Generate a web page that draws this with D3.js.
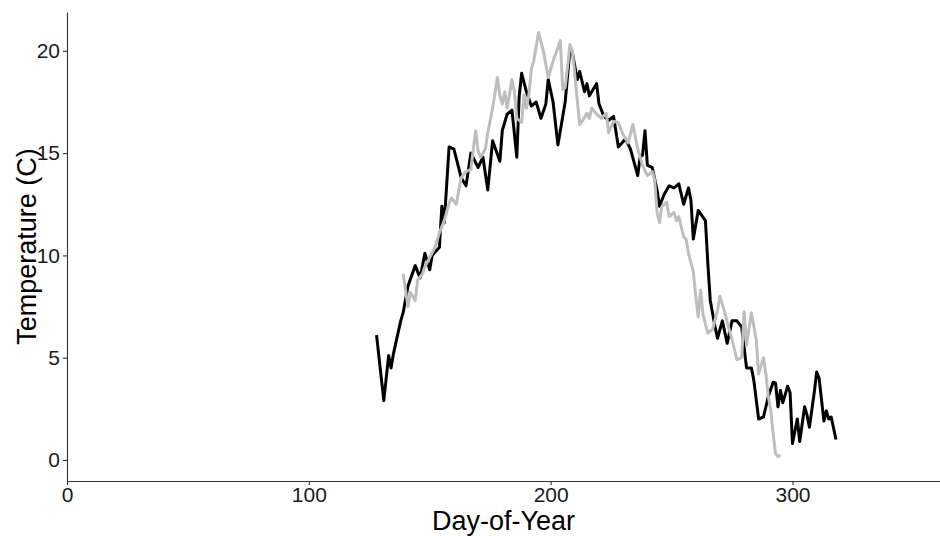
<!DOCTYPE html>
<html>
<head>
<meta charset="utf-8">
<script src="https://cdn.jsdelivr.net/npm/d3@7"></script>
<style>
  html, body { margin: 0; padding: 0; background: #fff; }
  svg { display: block; font-family: "Liberation Sans", Arial, sans-serif; }
</style>
</head>
<body>
<svg id="chart" width="940" height="536"></svg>
<script>
// Daily water temperature, two records (dark and light traces)
const darkDays = [128,131,133,134,135,138,139,141,144,146,148,150,151,154,155,156,158,160,163,165,
  167,170,172,174,176,179,180,182,184,186,187,188,190,192,194,196,198,199,201,203,
  206,208,209,211,212,214,215,216,219,220,222,224,226,228,231,233,236,237,238,239,
  240,242,244,245,247,249,251,253,255,257,258,259,261,264,265,266,268,269,271,273,
  275,277,279,281,283,284,286,288,290,292,293,294,295,296,298,299,300,302,303,305,
  306,307,309,310,311,313,314,315,316,318];
const darkTemps = [6.1,2.9,5.1,4.5,5.2,6.8,7.2,8.5,9.5,8.9,10.1,9.3,10.0,10.4,12.4,11.6,15.3,15.2,13.8,13.4,
  15.0,14.3,14.8,13.2,15.6,14.6,16.1,16.9,17.1,14.8,17.8,18.9,18.0,17.3,17.5,16.7,17.4,18.6,17.5,15.4,
  17.5,20.1,19.9,18.6,19.0,18.0,18.4,17.8,18.4,17.4,16.8,16.6,16.8,15.3,15.7,15.2,13.9,14.8,14.9,16.1,
  14.4,14.3,13.2,12.4,13.0,13.4,13.3,13.5,12.5,13.3,12.7,10.8,12.2,11.7,9.6,7.8,6.5,5.95,6.8,5.7,
  6.8,6.8,6.5,4.5,4.5,3.9,2.0,2.1,3.1,3.8,3.75,2.6,3.4,2.8,3.6,3.3,0.8,2.0,0.9,2.6,
  2.2,1.6,3.3,4.3,4.0,1.9,2.4,2.0,2.1,1.0];

const lightDays = [139,140,141,142,144,145,147,148,150,152,154,156,158,159,161,162,163,165,167,168,
  169,170,171,173,174,176,178,179,180,181,182,184,185,186,188,189,190,191,192,193,
  195,197,199,201,204,205,206,208,209,212,213,215,216,217,219,221,223,224,226,228,
  230,232,234,236,238,240,242,243,244,245,246,248,249,251,252,253,255,256,257,259,
  260,261,262,263,265,267,269,270,272,274,275,277,279,280,281,283,285,286,288,289,
  290,291,292,293,294,295];
const lightTemps = [9.1,8.3,7.5,8.2,7.8,8.8,9.1,9.45,9.9,10.35,11.1,11.7,12.55,12.8,12.5,13.2,13.8,14.1,14.2,15.2,
  16.1,15.1,14.8,15.2,16.0,17.2,18.7,17.8,17.4,18.0,17.2,18.6,18.0,16.7,16.5,17.85,17.2,17.85,19.1,19.5,
  20.9,20.0,18.7,19.5,20.5,18.1,18.2,20.3,20.0,16.4,16.55,16.95,16.7,17.2,16.9,16.7,16.95,16.0,16.55,16.5,
  15.9,15.5,16.4,15.2,14.4,13.9,14.1,13.7,12.1,11.6,12.4,12.6,11.9,12.1,11.7,11.9,10.9,10.8,10.1,9.2,
  8.0,7.0,8.3,7.1,6.2,6.4,7.3,8.0,7.2,6.3,5.9,4.9,5.0,7.25,5.6,7.2,5.9,4.2,5.0,4.2,
  3.1,2.45,1.3,0.3,0.16,0.25];

const xTicks = [0, 100, 200, 300];
const yTicks = [0, 5, 10, 15, 20];
const xTitle = "Day-of-Year";
const yTitle = "Temperature (C)";

const svg = d3.select("#chart");
const panel = { left: 67, right: 940, top: 12, bottom: 481 };

const x = d3.scaleLinear().domain([0, 361]).range([panel.left, panel.right]);
const y = d3.scaleLinear().domain([-1.03, 21.9]).range([panel.bottom, panel.top]);

// Axes
const xAxis = svg.append("g")
  .attr("transform", `translate(0,${panel.bottom})`)
  .call(d3.axisBottom(x).tickValues(xTicks).tickFormat(d3.format("d")).tickSize(4).tickSizeOuter(0));
const yAxis = svg.append("g")
  .attr("transform", `translate(${panel.left},0)`)
  .call(d3.axisLeft(y).tickValues(yTicks).tickFormat(d3.format("d")).tickSize(4).tickSizeOuter(0));

[xAxis, yAxis].forEach(g => {
  g.select(".domain").attr("stroke", "#333").attr("stroke-width", 1.1);
  g.selectAll(".tick line").attr("stroke", "#333").attr("stroke-width", 1.1);
  g.selectAll(".tick text")
    .attr("fill", "#1a1a1a")
    .style("font-size", "21px")
    .style("font-family", "'Liberation Sans', Arial, sans-serif");
});
xAxis.selectAll(".tick text").attr("dy", "0.71em").attr("y", 6);
yAxis.selectAll(".tick text").attr("x", -7);

// Axis titles
svg.append("text")
  .attr("x", (panel.left + panel.right) / 2)
  .attr("y", 530)
  .attr("text-anchor", "middle")
  .attr("fill", "#000")
  .style("font-size", "27px")
  .text(xTitle);

svg.append("text")
  .attr("transform", `translate(36,${(panel.top + panel.bottom) / 2}) rotate(-90)`)
  .attr("text-anchor", "middle")
  .attr("fill", "#000")
  .style("font-size", "27px")
  .text(yTitle);

// Temperature traces
const line = d3.line().x(d => x(d[0])).y(d => y(d[1]));
const darkSeries = d3.zip(darkDays, darkTemps);
const lightSeries = d3.zip(lightDays, lightTemps);

svg.append("path")
  .datum(darkSeries)
  .attr("d", line)
  .attr("fill", "none")
  .attr("stroke", "#000")
  .attr("stroke-width", 3)
  .attr("stroke-linejoin", "round");

svg.append("path")
  .datum(lightSeries)
  .attr("d", line)
  .attr("fill", "none")
  .attr("stroke", "#bebebe")
  .attr("stroke-width", 3)
  .attr("stroke-linejoin", "round");
</script>
</body>
</html>
